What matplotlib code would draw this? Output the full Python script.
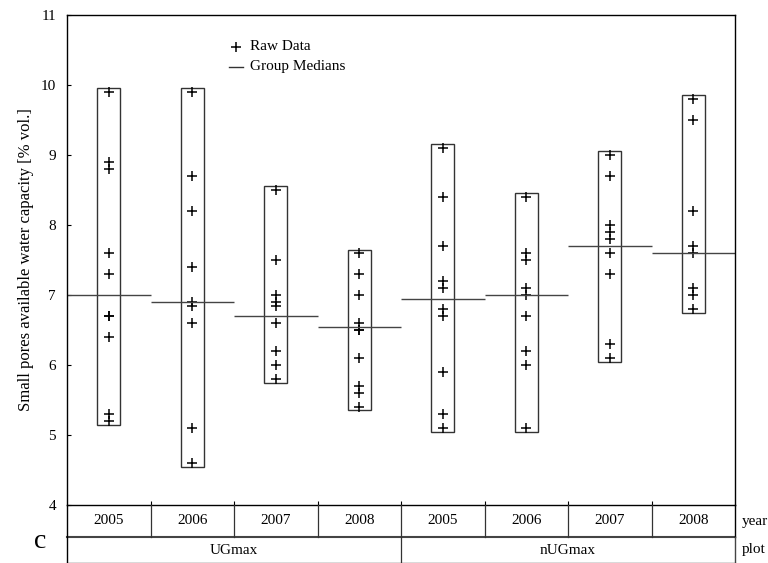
import matplotlib.pyplot as plt
from matplotlib.patches import Rectangle

plt.rcParams['font.family'] = ['Liberation Serif', 'DejaVu Serif']

# columns of the bottom table
years = ['2005', '2006', '2007', '2008', '2005', '2006', '2007', '2008']
plots = ['UGmax', 'nUGmax']

# raw data per group
raw = [
    [9.9, 8.9, 8.8, 7.6, 7.3, 6.7, 6.7, 6.4, 5.3, 5.2],
    [9.9, 8.7, 8.2, 7.4, 6.9, 6.85, 6.6, 5.1, 4.6],
    [8.5, 7.5, 7.0, 6.9, 6.85, 6.6, 6.2, 6.0, 5.8],
    [7.6, 7.3, 7.0, 6.6, 6.5, 6.5, 6.1, 5.7, 5.6, 5.4],
    [9.1, 8.4, 7.7, 7.2, 7.1, 6.8, 6.7, 5.9, 5.3, 5.1],
    [8.4, 7.6, 7.5, 7.1, 7.0, 6.7, 6.2, 6.0, 5.1],
    [9.0, 8.7, 8.0, 7.9, 7.8, 7.6, 7.3, 6.3, 6.1],
    [9.8, 9.5, 8.2, 7.7, 7.6, 7.1, 7.0, 6.8],
]
medians = [7.0, 6.9, 6.7, 6.55, 6.95, 7.0, 7.7, 7.6]

fig = plt.figure(figsize=(7.68, 5.63), dpi=100)
L, R = 67 / 768, 735 / 768
ax = fig.add_axes([L, 58 / 563, R - L, 490 / 563])

box_w = 0.27
for i, vals in enumerate(raw):
    lo, hi = min(vals) - 0.05, max(vals) + 0.05
    ax.add_patch(Rectangle((i + 0.5 - box_w / 2, lo), box_w, hi - lo,
                           fill=False, edgecolor='#333333', lw=1.0))
    ax.plot([i + 0.5] * len(vals), vals, '+', color='black', ms=7, mew=1.1)
    ax.hlines(medians[i], i, i + 1, color='#444444', lw=1.0)

ax.set_xlim(0, 8)
ax.set_ylim(4, 11)
ax.set_yticks(range(4, 12))
ax.set_xticks(range(1, 8))
ax.set_xticklabels([])
ax.tick_params(axis='both', direction='in', length=3, width=0.8, labelsize=11)
ax.tick_params(axis='y', pad=8)
for s in ax.spines.values():
    s.set_linewidth(1.0)
ax.set_ylabel('Small pores available water capacity [% vol.]', fontsize=12, labelpad=5)

# legend drawn by hand
ax.plot([0.253], [0.935], '+', color='black', ms=7, mew=1.1, transform=ax.transAxes)
ax.plot([0.242, 0.263], [0.894, 0.894], color='#333333', lw=1.0, transform=ax.transAxes)
ax.text(0.274, 0.935, 'Raw Data', transform=ax.transAxes, va='center', fontsize=11)
ax.text(0.274, 0.894, 'Group Medians', transform=ax.transAxes, va='center', fontsize=11)

# table under the axis
tab = fig.add_axes([L, 0, R - L, 58 / 563])
tab.set_xlim(0, 8)
tab.set_ylim(0, 58)
tab.axis('off')
tab.plot([0, 8], [26, 26], color='#444444', lw=1.5, clip_on=False)
tab.plot([0, 8], [0.5, 0.5], color='#444444', lw=1.0, clip_on=False)
tab.plot([0, 0], [0, 58], color='black', lw=1.0, clip_on=False)
tab.plot([8, 8], [26, 58], color='black', lw=1.0, clip_on=False)
tab.plot([8, 8], [0, 26], color='#444444', lw=1.0, clip_on=False)
for i in range(1, 8):
    tab.plot([i, i], [26, 58], color='#333333', lw=0.9, clip_on=False)
tab.plot([4, 4], [0, 26], color='#333333', lw=0.9, clip_on=False)
for i, y in enumerate(years):
    tab.text(i + 0.5, 42, y, ha='center', va='center', fontsize=11)
for i, p in enumerate(plots):
    tab.text(2 + 4 * i, 13, p, ha='center', va='center', fontsize=11)
tab.text(8.08, 42, 'year', ha='left', va='center', fontsize=11, clip_on=False)
tab.text(8.08, 13, 'plot', ha='left', va='center', fontsize=11, clip_on=False)
fig.text(40 / 768, 1 - 541 / 563, 'c', ha='center', va='center', fontsize=20)

fig.savefig('out.png', dpi=100)
